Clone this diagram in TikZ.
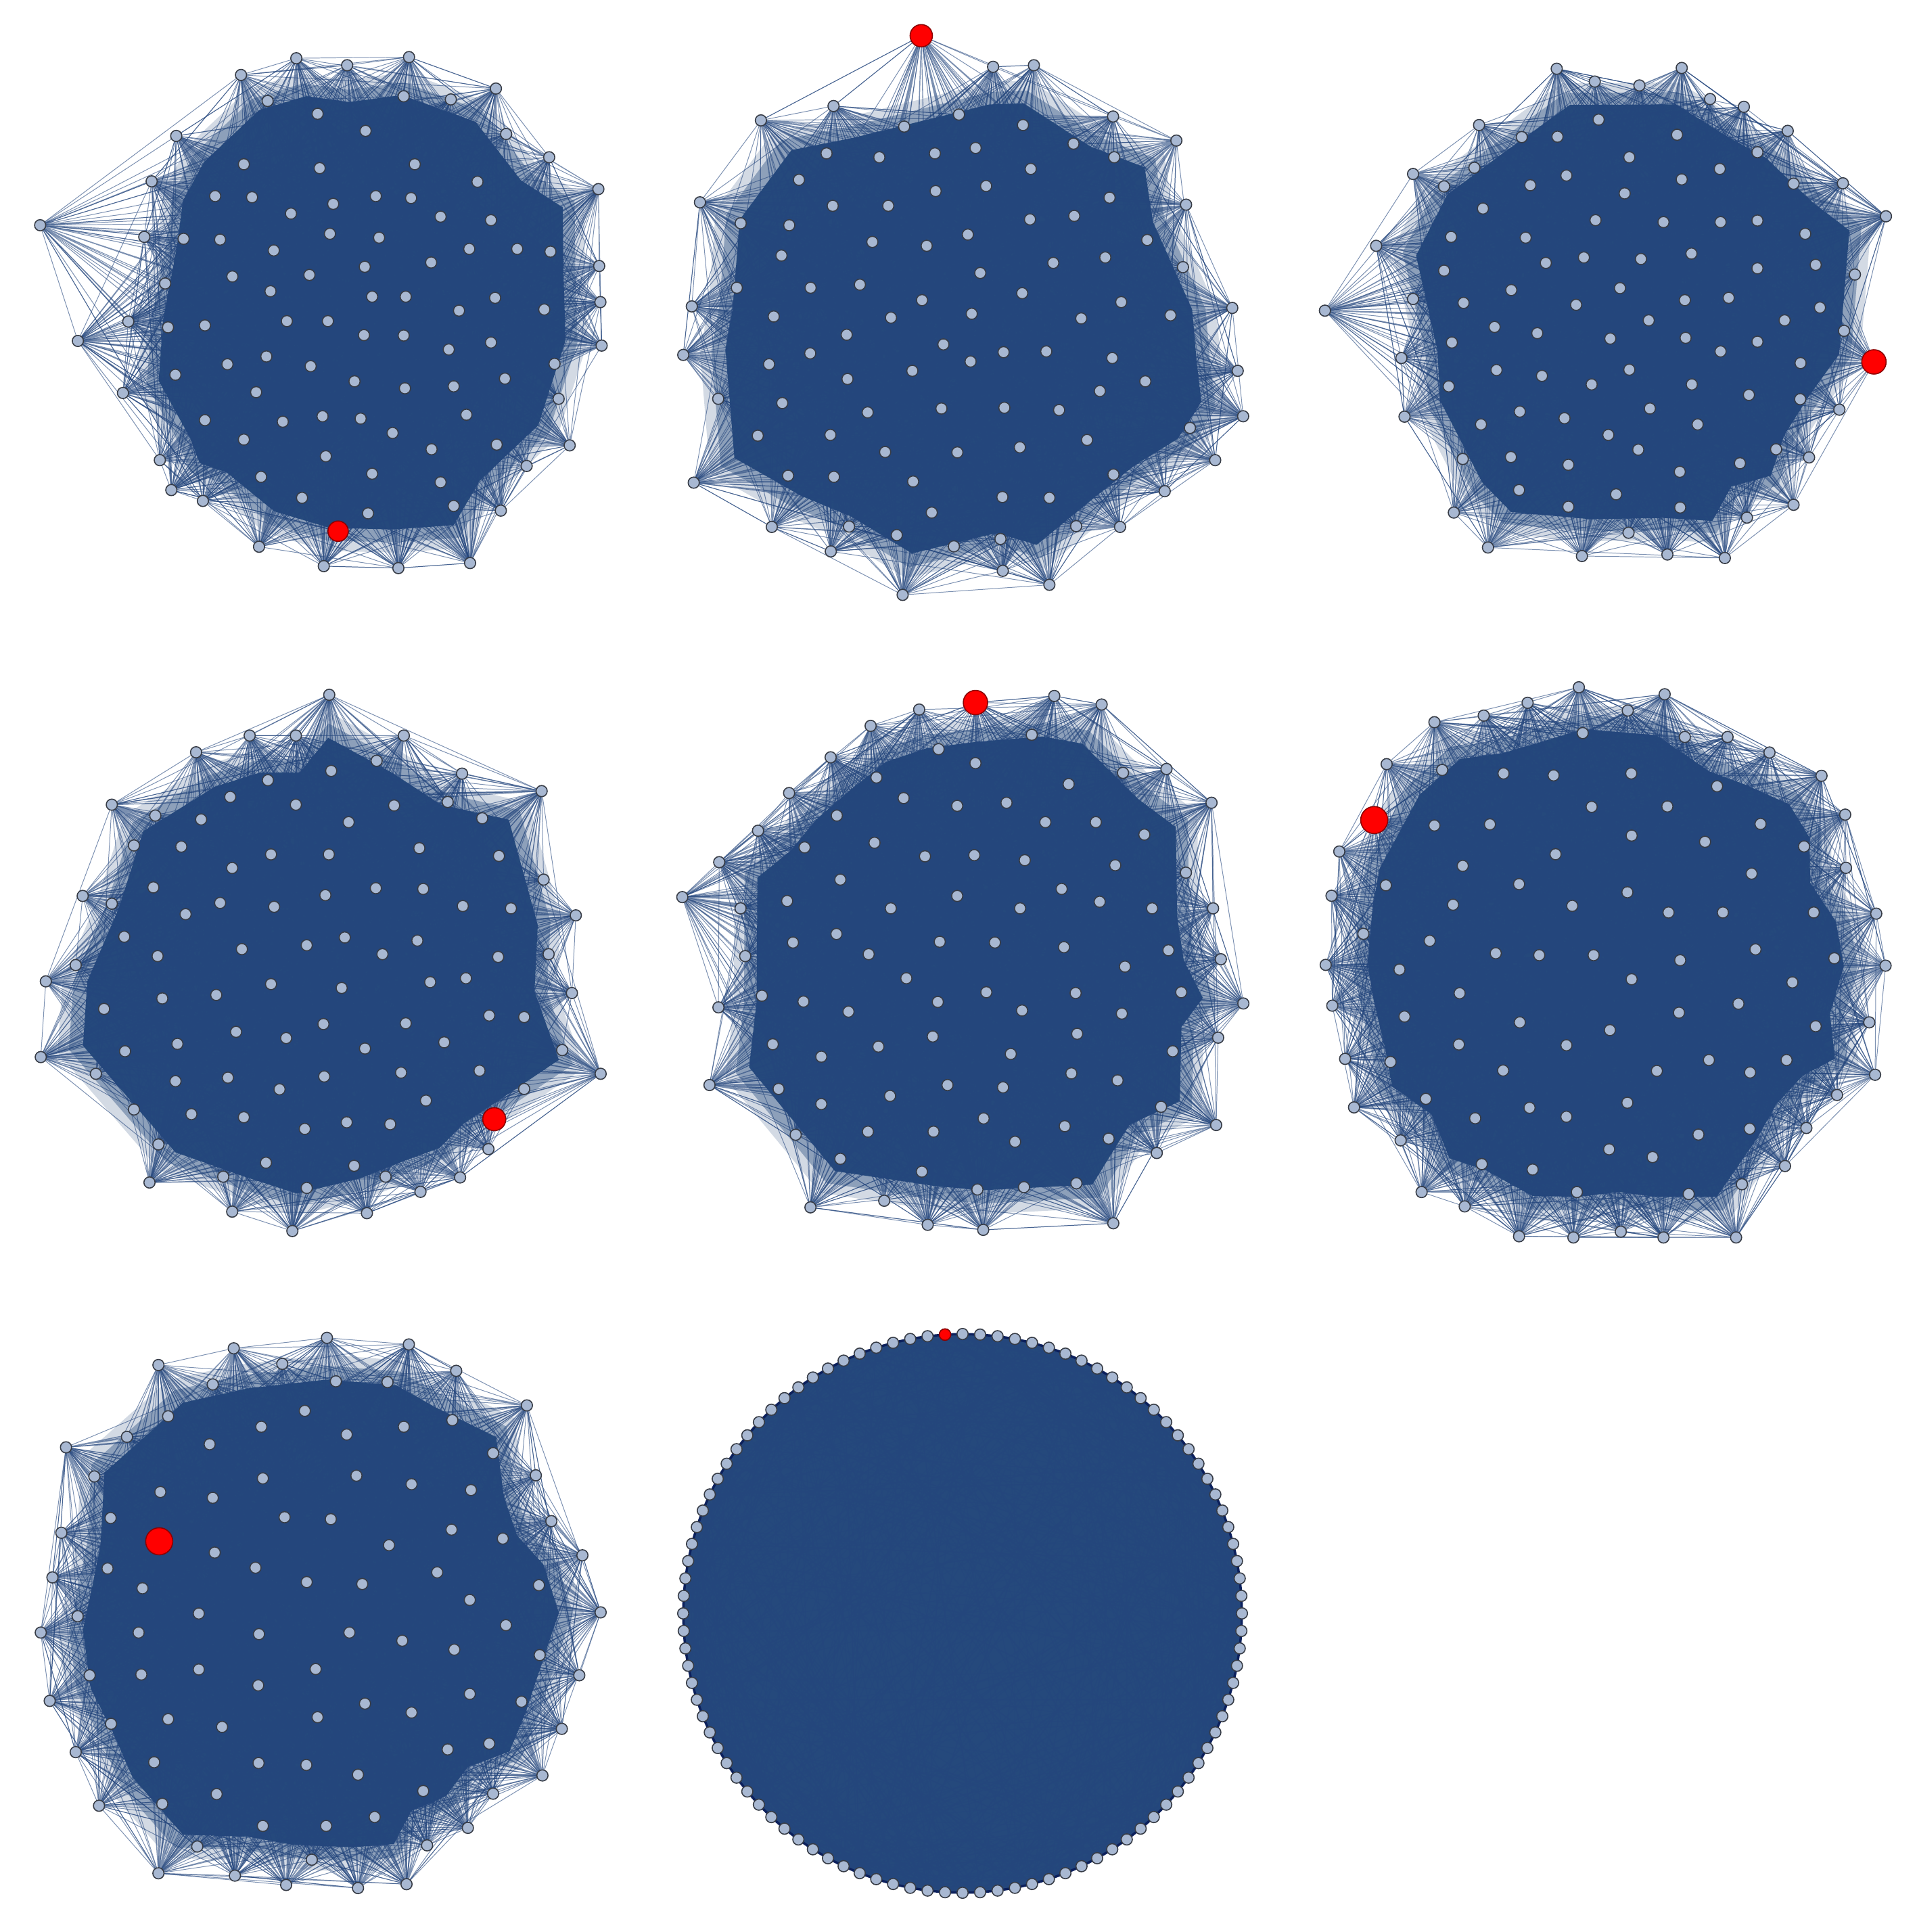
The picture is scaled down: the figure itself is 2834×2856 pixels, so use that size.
\documentclass[tikz,border=0pt]{standalone}
\usetikzlibrary{calc}
\definecolor{fillblue}{RGB}{37,73,124}
\definecolor{edgeblue}{RGB}{36,70,125}
\definecolor{nodefill}{RGB}{168,184,210}
\definecolor{nodeborder}{RGB}{55,60,70}
\definecolor{navyline}{RGB}{12,32,92}
\tikzset{
  gnode/.style={circle, fill=nodefill, draw=nodeborder, line width=0.45pt, minimum size=0.165cm, inner sep=0pt},
  rnode/.style={circle, fill=red, draw=red!55!black, line width=0.45pt, inner sep=0pt},
  edge/.style={draw=edgeblue, line width=0.28pt, opacity=0.6},
  core/.style={fill=fillblue},
  band/.style={fill=fillblue, opacity=0.2},
  bandb/.style={fill=fillblue, opacity=0.4},
}
\newcommand\graphpanel[8]{%
  \begin{scope}[#2]
    \foreach [count=\i] \x/\y in {#3}{\coordinate (c#1-\i) at (\x,\y); \xdef\nF{\i}}
    \pgfmathtruncatemacro\st{\nF+1}
    \foreach [count=\i from \st] \x/\y in {#4}{\coordinate (c#1-\i) at (\x,\y); \xdef\nO{\i}}
    \pgfmathtruncatemacro\st{\nO+1}
    \foreach [count=\i from \st] \x/\y in {#5}{\coordinate (c#1-\i) at (\x,\y); \xdef\nT{\i}}
    \coordinate (m#1) at (#6);
    \coordinate (r#1) at (#7);
  \end{scope}
  \fill[band] ($(m#1)!0.94!(c#1-1)$) \foreach \i in {2,...,\nF}{ -- ($(m#1)!0.94!(c#1-\i)$)} -- cycle;
  \fill[bandb] ($(m#1)!0.9!(c#1-1)$) \foreach \i in {2,...,\nF}{ -- ($(m#1)!0.9!(c#1-\i)$)} -- cycle;
  \fill[core] ($(m#1)!0.85!(c#1-1)$) \foreach \i in {2,...,\nF}{ -- ($(m#1)!0.85!(c#1-\i)$)} -- cycle;
  \foreach \i in {1,...,\nO}{\draw[edge] \foreach \k [evaluate=\k as \r using {int(random(1,\nT))}] in {1,...,44}{(c#1-\i) -- (c#1-\r)};}
  \pgfmathtruncatemacro\st{\nO+1}
  \foreach \i in {\st,...,\nT}{\draw[edge] \foreach \k [evaluate=\k as \r using {int(random(1,\nT))}] in {1,...,14}{(c#1-\i) -- (c#1-\r)};}
  \foreach \i in {1,...,\nT}{\node[gnode] (n#1-\i) at (c#1-\i) {};}
  \node[rnode, minimum size=#8] (red#1) at (r#1) {};
}
\begin{document}
\begin{tikzpicture}[x=0.01cm, y=-0.01cm]
\pgfmathsetseed{7}
\useasboundingbox (0,0) rectangle (2834,2856);
\fill[white] (0,0) rectangle (2834,2856);

% panel 1
\graphpanel{1}{xscale=0.6059, yscale=0.574}
{723/150, 847/168, 998/147, 1210/228, 1340/405, 1460/487, 1462/685, 1465/778, 1468/890, 1390/1147, 1222/1315, 1147/1450, 972/1463, 790/1458, 632/1408, 495/1290, 418/1262, 390/1185, 300/1012, 313/828, 352/610, 370/467, 430/350, 588/193}
{98/580, 825/1368, 190/878}
{653/260, 775/293, 985/248, 1100/256, 1235/345, 892/337, 595/423, 780/433, 1012/423, 1165/468, 525/505, 615/508, 917/505, 1003/510, 813/525, 710/550, 1075/558, 1198/567, 448/615, 537/617, 805/602, 925/612, 668/645, 1145/641, 1262/641, 1343/648, 890/687, 1052/676, 567/712, 755/708, 403/730, 660/750, 908/764, 990/764, 1208/767, 1120/800, 1328/797, 410/843, 500/838, 700/827, 800/827, 888/863, 985/864, 1198/882, 1095/900, 650/918, 555/938, 758/943, 1353/937, 428/965, 865/982, 988/1000, 1107/995, 1232/975, 625/1010, 1363/1027, 500/1082, 690/1086, 787/1072, 880/1078, 1138/1068, 958/1115, 595/1132, 1053/1157, 1212/1145, 795/1175, 637/1228, 908/1220, 1075/1242, 1285/1200, 737/1282, 898/1322, 1107/1303}
{880,800}{825,1368}{0.30cm}

% panel 2
\graphpanel{2}{shift={(990,0)}, scale=0.574}
{833/172, 938/168, 1142/300, 1305/362, 1330/527, 1449/793, 1463/955, 1477/1072, 1405/1185, 1275/1265, 1160/1357, 978/1506, 858/1470, 600/1532, 415/1420, 263/1357, 62/1243, 35/914, 57/789, 78/521, 235/310, 422/273}
{648/92}
{125/1027, 745/295, 604/326, 910/322, 1040/370, 1145/405, 404/395, 540/405, 683/395, 788/381, 930/435, 333/463, 685/492, 815/479, 1133/509, 420/530, 563/530, 928/565, 1042/556, 183/575, 308/580, 522/623, 662/633, 768/604, 1230/618, 1322/688, 288/658, 988/677, 1122/663, 800/703, 173/741, 363/741, 490/733, 908/755, 650/773, 1163/778, 268/815, 570/818, 778/808, 1060/820, 1290/812, 456/862, 705/887, 362/910, 860/907, 970/905, 1140/922, 256/938, 775/931, 625/955, 458/976, 1225/982, 1108/1007, 290/1038, 700/1052, 862/1050, 1003/1056, 510/1062, 1340/1102, 227/1122, 414/1120, 1075/1133, 902/1152, 555/1164, 741/1165, 305/1225, 423/1228, 627/1240, 1143/1222, 857/1280, 978/1282, 675/1320, 462/1356, 1047/1355, 585/1378, 852/1388, 732/1407}
{760,820}{648,92}{0.33cm}

% panel 3
\graphpanel{3}{shift={(1934,0)}, scale=0.574}
{640/177, 962/175, 1122/275, 1235/337, 1377/472, 1488/557, 1457/932, 1368/1055, 1290/1178, 1250/1300, 1130/1333, 1073/1437, 925/1428, 705/1432, 463/1410, 375/1320, 248/1073, 240/922, 175/633, 270/448, 440/322}
{43/800}
{738/210, 853/220, 1035/255, 748/308, 550/353, 642/352, 950/347, 1157/392, 428/432, 827/405, 1060/435, 665/452, 350/480, 572/477, 962/462, 815/498, 1250/473, 450/537, 740/567, 915/572, 1062/572, 1157/568, 1280/602, 368/610, 560/612, 612/677, 710/663, 857/667, 987/653, 1157/691, 1307/682, 1408/707, 350/697, 523/747, 803/742, 270/770, 400/780, 690/785, 970/773, 1083/767, 1318/792, 480/842, 590/858, 877/825, 1227/825, 1380/852, 370/882, 778/872, 972/870, 1157/880, 1062/905, 485/953, 602/968, 827/952, 1268/935, 362/995, 730/990, 988/990, 1135/1017, 1267/1028, 545/1060, 660/1077, 880/1052, 445/1093, 1003/1093, 773/1120, 398/1182, 522/1177, 850/1158, 1205/1157, 670/1197, 957/1215, 1112/1193, 543/1262, 793/1273, 670/1305, 958/1307, 825/1372}
{860,800}{1457,932}{0.36cm}

% panel 4
\graphpanel{4}{shift={(0,980)}, scale=0.574}
{848/82, 1040/187, 1190/285, 1395/330, 1483/650, 1473/850, 1547/1058, 1258/1252, 1185/1325, 1083/1362, 945/1417, 753/1463, 598/1413, 385/1338, 105/1015, 118/820, 213/600, 288/365, 505/230, 643/187, 762/187}
{1273/1175}
{1400/558, 1350/1097, 970/252, 853/278, 690/302, 593/345, 762/365, 1015/367, 1153/358, 400/393, 518/403, 898/410, 1242/400, 345/470, 467/473, 698/493, 847/493, 1080/477, 1285/497, 598/528, 395/578, 968/580, 1090/582, 288/620, 567/618, 706/628, 838/598, 1192/626, 1316/632, 478/647, 320/705, 888/707, 1075/715, 623/737, 790/727, 985/750, 1283/757, 1413/750, 195/778, 406/755, 698/827, 880/837, 1108/822, 1200/812, 418/864, 557/855, 268/891, 1260/908, 1350/912, 833/930, 1045/928, 608/950, 737/966, 457/981, 322/1000, 940/993, 1144/977, 1448/997, 247/1058, 452/1077, 587/1068, 835/1065, 1033/1055, 1235/1050, 720/1098, 1097/1127, 345/1150, 493/1162, 628/1170, 785/1200, 893/1183, 1005/1188, 408/1240, 685/1287, 912/1295, 575/1323, 993/1323, 790/1352}
{830,820}{1273,1175}{0.34cm}

% panel 5
\graphpanel{5}{shift={(980,980)}, scale=0.574}
{1008/85, 1130/107, 1297/273, 1413/360, 1417/632, 1437/763, 1495/877, 1430/965, 1425/1190, 1272/1262, 1160/1443, 825/1460, 682/1447, 380/1402, 120/1087, 143/887, 145/513, 245/432, 325/335, 432/243, 535/162, 660/120, 805/102}
{50/603}
{212/755, 200/632, 950/185, 710/222, 805/258, 550/295, 1185/283, 1045/312, 620/348, 758/368, 885/360, 448/393, 985/410, 1115/410, 1240/442, 545/463, 365/475, 675/498, 802/495, 932/508, 1165/521, 1347/540, 457/558, 320/613, 758/600, 1027/582, 1125/615, 587/632, 920/632, 1260/632, 447/698, 335/720, 713/718, 855/720, 1033/732, 1302/740, 530/750, 1190/782, 627/812, 833/848, 1335/848, 255/857, 362/872, 708/873, 1063/850, 478/898, 925/895, 1182/903, 695/962, 1067/955, 283/982, 555/988, 896/1007, 1313/1000, 408/1014, 1052/1057, 1171/1075, 733/1087, 876/1093, 298/1097, 585/1115, 408/1136, 1283/1143, 826/1173, 528/1207, 697/1207, 1035/1193, 907/1233, 1148/1225, 342/1215, 457/1277, 667/1310, 810/1356, 930/1350, 1065/1340, 570/1385}
{800,780}{805,102}{0.36cm}

% panel 6
\graphpanel{6}{shift={(1934,970)}, scale=0.574}
{697/80, 918/98, 1080/208, 1188/248, 1322/308, 1383/408, 1385/545, 1463/663, 1487/797, 1445/943, 1460/1078, 1362/1130, 1283/1215, 1228/1313, 1102/1497, 915/1497, 805/1482, 683/1497, 543/1494, 403/1417, 292/1380, 238/1247, 118/1162, 95/1037, 62/900, 45/795, 60/617, 80/503, 202/278, 325/170, 452/153, 565/120}
{170/422}
{1117/1360, 823/140, 707/198, 970/208, 345/293, 503/302, 632/307, 832/302, 1053/335, 730/388, 925/387, 325/436, 468/433, 1165/432, 833/462, 1022/478, 1277/490, 637/510, 398/540, 1142/560, 543/587, 822/608, 200/590, 373/640, 680/643, 928/660, 1068/660, 1302/660, 142/715, 313/733, 483/765, 595/770, 735/770, 958/783, 1152/755, 1355/778, 235/807, 833/832, 1247/840, 390/868, 1108/895, 955/918, 248/928, 545/943, 777/963, 1307/953, 388/1000, 665/1002, 212/1045, 1032/1040, 1232/1040, 502/1067, 898/1068, 1138/1072, 303/1140, 822/1150, 570/1163, 665/1186, 430/1190, 1005/1232, 1137/1217, 775/1270, 887/1290, 447/1308, 578/1322, 692/1380, 980/1385}
{770,800}{170,422}{0.40cm}

% panel 7
\graphpanel{7}{shift={(0,1930)}, scale=0.574}
{842/83, 1053/100, 1175/168, 1357/257, 1380/437, 1420/555, 1500/643, 1547/790, 1492/952, 1447/1090, 1397/1210, 1270/1257, 1205/1345, 1100/1390, 1047/1490, 922/1500, 737/1492, 605/1468, 408/1462, 255/1288, 195/1150, 128/1018, 105/842, 135/700, 158/585, 170/365, 408/153, 602/110}
{410/607}
{727/150, 548/203, 865/195, 998/197, 433/285, 785/271, 1165/295, 327/338, 673/312, 893/332, 1040/312, 1270/380, 540/357, 243/440, 677/445, 918/438, 1060/460, 1213/475, 413/480, 548/495, 285/547, 733/545, 852/550, 1163/577, 1295/600, 1002/617, 553/636, 277/677, 658/675, 1126/687, 1388/720, 367/728, 790/712, 933/717, 1210/758, 512/793, 200/800, 357/842, 667/846, 900/842, 1036/863, 1303/823, 1170/886, 1390/900, 231/952, 364/950, 512/937, 813/936, 665/978, 1210/1000, 1343/1020, 940/1025, 1060/1048, 286/1077, 433/1065, 572/1085, 818/1060, 1153/1143, 1260/1128, 397/1176, 666/1178, 789/1183, 922/1208, 1090/1250, 558/1258, 418/1283, 965/1317, 677/1340, 840/1340, 508/1393, 803/1427}
{830,800}{410,607}{0.40cm}

% panel 8: complete graph on a circle
\foreach \k in {1,...,100}{\coordinate (c8-\k) at ({1423+413*cos(90+3.6*(\k-1))},{2385-413*sin(90+3.6*(\k-1))});}
\fill[core] (c8-1) \foreach \k in {2,...,100}{ -- (c8-\k)} -- cycle;
\foreach \k in {1,...,100}{\draw[edge] \foreach \j [evaluate=\j as \r using {int(random(1,100))}] in {1,...,8}{(c8-\k) -- (c8-\r)};}
\draw[draw=navyline, line width=1pt] (c8-1) \foreach \k in {2,...,100}{ -- (c8-\k)} -- cycle;
\foreach \k in {1,...,100}{\node[gnode] (n8-\k) at (c8-\k) {};}
\node[rnode, minimum size=0.17cm] (red8) at (c8-2) {};
\end{tikzpicture}
\end{document}
